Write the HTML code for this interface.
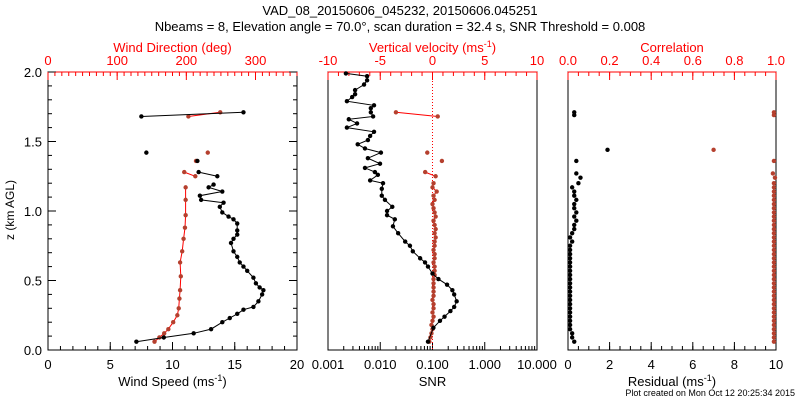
<!DOCTYPE html>
<html><head><meta charset="utf-8"><style>
body{margin:0;background:#fff;}
svg{display:block;font-family:"Liberation Sans",sans-serif;}
</style></head><body>
<svg id="chart" width="800" height="400" viewBox="0 0 800 400">
<text x="400" y="15" text-anchor="middle" font-size="13">VAD_08_20150606_045232, 20150606.045251</text>
<text x="400" y="31" text-anchor="middle" font-size="13">Nbeams = 8, Elevation angle = 70.0°, scan duration = 32.4 s, SNR Threshold = 0.008</text>
<text x="14" y="210" text-anchor="middle" font-size="12" transform="rotate(-90 14 210)">z (km AGL)</text>
<text x="795" y="396" text-anchor="end" font-size="9">Plot created on Mon Oct 12 20:25:34 2015</text>
<g id="g"></g>
</svg>
<script>
// ---- data ----
const wsZ=[0.06,0.09,0.12,0.15,0.20,0.23,0.26,0.29,0.31,0.35,0.40,0.43,0.45,0.48,0.52,0.57,0.60,0.63,0.67,0.71,0.77,0.80,0.83,0.86,0.91,0.94,0.96,0.99,1.03,1.06,1.08,1.11,1.14,1.17,1.19,null,1.25,1.28,null,1.36,null,1.42,null,1.68,1.71];
const wsVal=[7.1,9.3,11.7,13.1,14.0,14.6,15.2,15.7,16.5,16.9,17.2,17.3,17.0,16.7,16.5,16.0,15.7,15.4,15.2,14.9,14.7,14.9,15.2,15.2,15.2,14.9,14.5,14.0,13.8,14.1,12.3,12.2,14.0,12.9,13.3,null,13.6,12.1,null,12.0,null,7.9,null,7.5,15.7];
const wdZ=[0.06,0.09,0.12,0.15,0.20,0.25,0.30,0.37,0.43,0.53,0.63,0.71,0.80,0.88,0.97,1.08,1.17,null,1.25,1.28,null,1.36,null,1.42,null,1.68,1.71];
const wdVal=[154,161,168,174,181,187,189,190,191,192,191,194,196,198,199,199,199,null,213,197,null,214,null,231,null,203,249];
const snrZ=[0.06,0.16,0.21,0.24,0.28,0.31,0.35,0.40,0.43,0.47,0.51,0.55,0.60,0.63,0.66,0.71,0.75,0.78,0.84,0.89,0.94,0.97,1.00,1.03,1.08,1.11,1.16,1.20,1.22,1.26,1.28,1.31,1.34,1.38,1.42,1.45,1.48,1.51,1.54,1.57,1.60,1.63,1.66,1.68,1.71,1.74,1.76,1.79,1.82,1.84,1.87,1.91,1.94,1.97,1.99];
const snrVal=[0.082,0.104,0.139,0.17,0.22,0.26,0.29,0.26,0.24,0.19,0.13,0.10,0.082,0.072,0.058,0.042,0.037,0.030,0.022,0.0175,0.019,0.0135,0.0135,0.017,0.0123,0.0107,0.0107,0.0113,0.0064,0.009,0.0079,0.0051,0.0099,0.0058,0.0103,0.0051,0.0037,0.0058,0.0064,0.0076,0.0023,0.0036,0.0025,0.0073,0.0066,0.0066,0.0076,0.0023,0.0029,0.0033,0.0033,0.0049,0.0056,0.0056,0.0022];
const denseZ=[0.06,0.09,0.12,0.15,0.18,0.21,0.24,0.27,0.30,0.33,0.36,0.39,0.42,0.45,0.48,0.51,0.54,0.57,0.60,0.63,0.66,0.69,0.72,0.75,0.78,0.81,0.84,0.87,0.90,0.93,0.96,0.99,1.02,1.05,1.08,1.11,1.14,1.17,1.20];
const wVal=[-0.3,-0.2,-0.1,0.0,-0.1,0.0,0.1,0.0,0.1,0.1,0.0,0.1,0.1,0.1,0.1,0.1,0.2,0.2,0.2,0.1,0.2,0.2,0.1,0.2,0.2,0.3,0.2,0.3,0.2,0.1,0.3,0.2,0.1,0.0,0.2,0.1,0.4,0.0,0.1];
const wExtraZ=[1.25,1.28,null,1.36,null,1.42,null,1.68,1.71];
const wExtraVal=[0.3,-0.7,null,0.9,null,-0.5,null,0.5,-3.5];
const resVal=[0.3,0.2,0.2,0.1,0.1,0.1,0.1,0.1,0.1,0.1,0.1,0.1,0.1,0.1,0.1,0.1,0.1,0.1,0.1,0.1,0.1,0.1,0.1,0.1,0.2,0.1,0.2,0.3,0.3,0.4,0.3,0.4,0.3,0.3,0.4,0.3,0.3,0.2,0.5];
const resExtraZ=[1.24,1.27,1.36,1.44,1.69,1.71];
const resExtraVal=[0.6,0.4,0.4,1.9,0.3,0.3];
const corVal=[0.99,0.99,0.99,0.99,0.99,0.99,0.99,0.99,0.99,0.99,0.99,0.99,0.99,0.99,0.99,0.99,0.99,0.99,0.99,0.99,0.99,0.99,0.99,0.99,0.99,0.99,0.99,0.99,0.99,0.99,0.99,0.99,0.99,0.99,0.99,0.99,0.99,0.99,0.99];
const corExtraZ=[1.24,1.27,1.36,1.44,1.69,1.71];
const corExtraVal=[0.995,0.985,0.99,0.70,0.99,0.99];
const yTicks=["0.0","0.5","1.0","1.5","2.0"];
const wsTicks=["0","5","10","15","20"];
const wdTicks=["0","100","200","300"];
const snrTicks=["0.001","0.010","0.100","1.000","10.000"];
const velTicks=["-10","-5","0","5","10"];
const resTicks=["0","2","4","6","8","10"];
const corTicks=["0.0","0.2","0.4","0.6","0.8","1.0"];

const NS="http://www.w3.org/2000/svg";
const G=document.getElementById('g');
const RED="#ff0000", BR="#b5402e";
const TOP=72, BOT=350;
const yz=z=>BOT-(z/2)*(BOT-TOP);
function mk(tag,at,parent){const e=document.createElementNS(NS,tag);for(const k in at)e.setAttribute(k,at[k]);(parent||G).appendChild(e);return e;}
function txt(x,y,s,fill,size,anchor){const t=mk('text',{x:x,y:y,'font-size':size||12,fill:fill||'#000','text-anchor':anchor||'middle'});t.textContent=s;return t;}

const P=[{l:48,r:297},{l:328,r:537},{l:568,r:776}];
P.forEach((p,i)=>{const f=mk('rect',{x:p.l,y:TOP,width:p.r-p.l,height:BOT-TOP,fill:'none',stroke:'#000','stroke-width':1});


mk('line',{x1:p.l,y1:TOP,x2:p.r,y2:TOP,stroke:RED});});

function linX(p,min,max){return v=>p.l+(v-min)/(max-min)*(p.r-p.l);}
function logX(p){return v=>p.l+(Math.log10(v)+3)/4*(p.r-p.l);}
const xWS=linX(P[0],0,20), xWD=linX(P[0],0,360), xSNR=logX(P[1]), xVel=linX(P[1],-10,10), xRes=linX(P[2],0,10), xCor=linX(P[2],0,1);

for(let i=0;i<=20;i++){const y=yz(i/10);const L=i%5===0?8:4;
mk('line',{x1:48,y1:y,x2:48+L,y2:y,stroke:'#000'});mk('line',{x1:297,y1:y,x2:297-L,y2:y,stroke:'#000'});}
yTicks.forEach(s=>{const t=txt(42,yz(parseFloat(s))+5,s,'#000',13,'end');

});

function bottomAxis(p,fx,majors,minors,labels,title){
 minors.forEach(v=>{const x=fx(v);mk('line',{x1:x,y1:BOT,x2:x,y2:BOT-4,stroke:'#000'});});
 majors.forEach((v,i)=>{const x=fx(v);mk('line',{x1:x,y1:BOT,x2:x,y2:BOT-8,stroke:'#000'});
  const t=txt(x,369,labels[i],'#000',13);
  
  });
 const tt=txt((p.l+p.r)/2,386,'','#000',13);tt.innerHTML=title;
 
 
}
function topAxis(p,fx,majors,minors,labels,title){
 minors.forEach(v=>{const x=fx(v);mk('line',{x1:x,y1:TOP,x2:x,y2:TOP+4,stroke:RED});});
 majors.forEach((v,i)=>{const x=fx(v);mk('line',{x1:x,y1:TOP,x2:x,y2:TOP+8,stroke:RED});
  const t=txt(x,65,labels[i],RED,13);
  
  });
 const tt=txt((p.l+p.r)/2,52,'',RED,13);tt.innerHTML=title;
 
 
}
const rng=(a,b,s)=>{const o=[];for(let v=a;v<=b+1e-9;v+=s)o.push(+v.toFixed(4));return o;};
bottomAxis(P[0],xWS,wsTicks.map(Number),rng(0,20,1),wsTicks,'Wind Speed (ms<tspan dy="-5" font-size="9">-1</tspan><tspan dy="5">)</tspan>');
topAxis(P[0],xWD,wdTicks.map(Number),rng(0,360,10),wdTicks,'Wind Direction (deg)');
const snrMin=[];for(let d=-3;d<1;d++)for(let k=2;k<10;k++)snrMin.push(k*Math.pow(10,d));
bottomAxis(P[1],xSNR,snrTicks.map(Number),snrMin,snrTicks,'SNR');
topAxis(P[1],xVel,velTicks.map(Number),rng(-10,10,1),velTicks,'Vertical velocity (ms<tspan dy="-5" font-size="9">-1</tspan><tspan dy="5">)</tspan>');
bottomAxis(P[2],xRes,resTicks.map(Number),rng(0,10,0.5),resTicks,'Residual (ms<tspan dy="-5" font-size="9">-1</tspan><tspan dy="5">)</tspan>');
topAxis(P[2],xCor,corTicks.map(Number),rng(0,1,0.05),corTicks,'Correlation');

mk('line',{x1:xVel(0),y1:TOP,x2:xVel(0),y2:BOT,stroke:RED,'stroke-dasharray':'1,2'});

function series(zs,vs,fx,lineCol,markCol,name,connect){
 if(connect){let seg=[];const flush=()=>{if(seg.length>1){const pl=mk('polyline',{points:seg.join(' '),fill:'none',stroke:lineCol,'stroke-width':1});
   
   }seg=[];};
  zs.forEach((z,i)=>{if(z===null||vs[i]===null){flush();return;}seg.push(fx(vs[i]).toFixed(1)+','+yz(z).toFixed(1));});flush();}
 zs.forEach((z,i)=>{if(z===null||vs[i]===null)return;
  const c=mk('circle',{cx:fx(vs[i]),cy:yz(z),r:2.2,fill:markCol});
  
  });
}
series(wdZ,wdVal,xWD,RED,BR,'wind-direction',true);
series(wsZ,wsVal,xWS,'#000','#000','wind-speed',true);
series(denseZ,wVal,xVel,RED,BR,'vertical-velocity',true);
series(wExtraZ,wExtraVal,xVel,RED,BR,'vertical-velocity-upper',true);
series(snrZ,snrVal,xSNR,'#000','#000','snr',true);
series(denseZ,corVal,xCor,BR,BR,'correlation',false);
series(corExtraZ,corExtraVal,xCor,BR,BR,'correlation-upper',false);
series(denseZ,resVal,xRes,'#000','#000','residual',false);
series(resExtraZ,resExtraVal,xRes,'#000','#000','residual-upper',false);
</script>
</body></html>
